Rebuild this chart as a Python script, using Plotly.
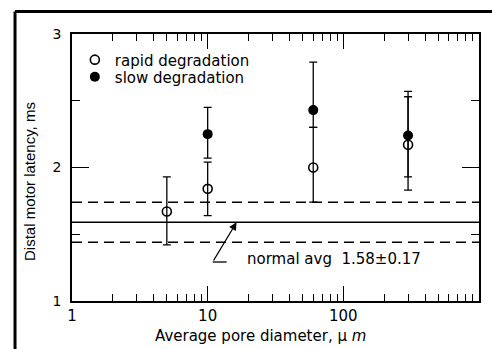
import plotly.graph_objects as go

# Data
pore_rapid = [5, 10, 60, 300]
lat_rapid = [1.67, 1.84, 2.00, 2.17]
err_rapid_up = [0.26, 0.20, 0.30, 0.36]
err_rapid_dn = [0.25, 0.20, 0.26, 0.34]

pore_slow = [10, 60, 300]
lat_slow = [2.25, 2.43, 2.24]
err_slow_up = [0.20, 0.36, 0.33]
err_slow_dn = [0.18, 0.13, 0.31]

normal_avg = 1.59
normal_hi = 1.74
normal_lo = 1.44

FONT = "DejaVu Sans, sans-serif"
FONT2 = "Liberation Sans, Arial, sans-serif"

fig = go.Figure()

fig.add_trace(go.Scatter(
    x=pore_rapid, y=lat_rapid, mode="markers", name="rapid degradation", legend="legend",
    marker=dict(symbol="circle-open", size=9, color="black", line=dict(width=1.6, color="black")),
    error_y=dict(type="data", symmetric=False, array=err_rapid_up, arrayminus=err_rapid_dn,
                 color="black", thickness=1.3, width=4),
))
fig.add_trace(go.Scatter(
    x=pore_slow, y=lat_slow, mode="markers", name="slow degradation", legend="legend2",
    marker=dict(symbol="circle", size=10, color="black"),
    error_y=dict(type="data", symmetric=False, array=err_slow_up, arrayminus=err_slow_dn,
                 color="black", thickness=1.3, width=4),
))

# normal average lines
for yv, dash in [(normal_hi, "10px,6px"), (normal_avg, "solid"), (normal_lo, "10px,6px")]:
    fig.add_shape(type="line", xref="paper", x0=0, x1=1, yref="y", y0=yv, y1=yv,
                  line=dict(color="black", width=1.4, dash=dash))

# arrow to the average line (annotation coords are log10 on a log axis)
fig.add_annotation(x=1.213, y=normal_avg, ax=1.037, ay=1.292, xref="x", yref="y",
                   axref="x", ayref="y", text="", showarrow=True, arrowhead=2,
                   arrowsize=1.2, arrowwidth=1.3, arrowcolor="black")
# foot of the arrow (shape coords are data values)
fig.add_shape(type="line", xref="x", yref="y", x0=10.9, x1=13.8, y0=1.292, y1=1.292,
              line=dict(color="black", width=1.3))
fig.add_annotation(x=1.272, y=1.315, xref="x", yref="y", text="normal avg  1.58±0.17",
                   showarrow=False, xanchor="left", yanchor="middle",
                   font=dict(family=FONT, size=15, color="black"))

# axis titles
fig.add_annotation(x=0.464, y=-0.131, xref="paper", yref="paper",
                   text="Average pore diameter, μ <i>m</i>", showarrow=False,
                   xanchor="center", yanchor="middle",
                   font=dict(family=FONT, size=15, color="black"))
fig.add_annotation(x=-0.103, y=0.446, xref="paper", yref="paper",
                   text="Distal motor latency, ms", showarrow=False, textangle=-90,
                   xanchor="center", yanchor="middle",
                   font=dict(family=FONT2, size=15, color="black"))

# outer frame (top and left)
fig.add_shape(type="line", xref="paper", yref="paper", x0=-0.140, x1=1.05, y0=1.084, y1=1.084,
              line=dict(color="black", width=3))
fig.add_shape(type="line", xref="paper", yref="paper", x0=-0.140, x1=-0.140, y0=1.084, y1=-0.2,
              line=dict(color="black", width=3))

leg_common = dict(xanchor="left", yanchor="middle", bgcolor="rgba(0,0,0,0)",
                  font=dict(family=FONT, size=15, color="black"), itemwidth=30,
                  tracegroupgap=0)
fig.update_layout(
    width=492, height=349,
    margin=dict(l=72, r=13, t=34, b=48),
    paper_bgcolor="white", plot_bgcolor="white",
    showlegend=True,
    legend=dict(x=0.007, y=0.903, **leg_common),
    legend2=dict(x=0.007, y=0.839, **leg_common),
    font=dict(family=FONT, size=12, color="black"),
)

fig.update_xaxes(type="log", range=[0, 3], tickmode="linear", tick0=0, dtick=1,
                 exponentformat="none",
                 ticks="inside", ticklen=15, tickwidth=1.3, tickcolor="black",
                 showline=True, linecolor="black", linewidth=1.5, mirror="allticks",
                 showgrid=False, zeroline=False,
                 minor=dict(ticks="inside", ticklen=7, tickwidth=1.3, tickcolor="black",
                            dtick="D1", showgrid=False),
                 tickfont=dict(family=FONT, size=15, color="black"))
fig.update_yaxes(range=[1, 3], tickmode="linear", tick0=1, dtick=1, ticks="inside",
                 ticklen=17, tickwidth=1.3,
                 tickcolor="black", showline=True, linecolor="black", linewidth=1.5,
                 mirror="allticks", showgrid=False, zeroline=False,
                 minor=dict(ticks="inside", ticklen=8, tickwidth=1.3, tickcolor="black",
                            dtick=0.5, showgrid=False),
                 ticklabelstandoff=6,
                 tickfont=dict(family=FONT, size=14, color="black"))

fig.write_html("out.html")
